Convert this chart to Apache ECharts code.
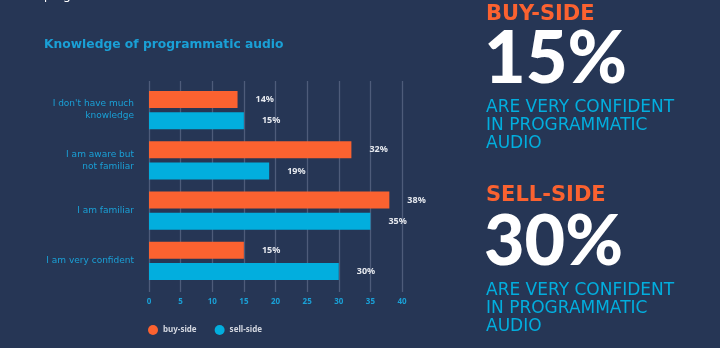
<!DOCTYPE html>
<html>
<head>
<meta charset="utf-8">
<script src="https://cdn.jsdelivr.net/npm/echarts@6/dist/echarts.min.js"></script>
<style>
html,body{margin:0;padding:0;background:#263655;}
#c{width:720px;height:348px;}
</style>
</head>
<body>
<div id="c"></div>
<script>
const categories = ["I don't have much\nknowledge", "I am aware but\nnot familiar", "I am familiar", "I am very confident"];
const buySide = [14, 32, 38, 15];
const sellSide = [15, 19, 35, 30];
const seriesNames = ["buy-side", "sell-side"];
const xTicks = [0, 5, 10, 15, 20, 25, 30, 35, 40];

const ORANGE = '#fb6230';
const BLUE = '#02aede';
const LABELBLUE = '#1aa0d6';
const GRID = '#4e5c7a';
const FONT = '"Noto Sans", Lato, sans-serif';
const WIDE = '"DejaVu Sans", "Noto Sans", sans-serif';
const BIG = 'Lato, "Noto Sans", sans-serif';

const chart = echarts.init(document.getElementById('c'));
const valueLabel = {
  show: true, position: 'right', distance: 18,
  formatter: p => p.value + '%',
  color: '#e6e9ef', fontSize: 9, fontWeight: 'bold', fontFamily: FONT
};
chart.setOption({
  backgroundColor: '#263655',
  animation: false,
  grid: {left: 149, width: 253, top: 85, height: 201},
  xAxis: [{
    type: 'value', min: xTicks[0], max: xTicks[xTicks.length - 1], interval: 5,
    position: 'bottom',
    axisLine: {show: false},
    axisTick: {show: true, length: 6, lineStyle: {color: GRID, width: 1.3}},
    splitLine: {show: true, lineStyle: {color: GRID, width: 1.3}},
    axisLabel: {color: LABELBLUE, fontSize: 8, fontWeight: 'bold', fontFamily: FONT, margin: 12}
  }, {
    type: 'value', min: xTicks[0], max: xTicks[xTicks.length - 1], interval: 5,
    position: 'top',
    axisLine: {show: false},
    axisTick: {show: true, length: 4, lineStyle: {color: GRID, width: 1.3}},
    splitLine: {show: false},
    axisLabel: {show: false}
  }],
  yAxis: {
    type: 'category', data: categories, inverse: true,
    axisLine: {show: false}, axisTick: {show: false},
    axisLabel: {color: LABELBLUE, fontSize: 9, fontFamily: WIDE, margin: 15, lineHeight: 12, align: 'right'}
  },
  legend: {
    data: seriesNames, left: 143, top: 320, icon: 'circle',
    itemWidth: 10, itemHeight: 10, itemGap: 18,
    textStyle: {color: '#d3d7e0', fontSize: 8, fontFamily: FONT, fontWeight: 'bold'}
  },
  series: [
    {name: seriesNames[0], type: 'bar', data: buySide, barWidth: 17, barGap: '25%',
     itemStyle: {color: ORANGE}, label: valueLabel},
    {name: seriesNames[1], type: 'bar', data: sellSide, barWidth: 17, barGap: '25%',
     itemStyle: {color: BLUE}, label: valueLabel}
  ],
  graphic: [
    {type: 'text', left: 44, top: -10, style: {text: 'programmatic audio.', fill: '#ffffff', font: '12px ' + FONT}},
    {type: 'text', x: 44, y: 45, style: {text: 'Knowledge of programmatic audio', fill: LABELBLUE, font: 'bold 12.3px ' + WIDE, verticalAlign: 'middle'}},
    {type: 'text', x: 486, y: 14.5, style: {text: 'BUY-SIDE', fill: ORANGE, font: 'bold 21px ' + WIDE, verticalAlign: 'middle'}},
    {type: 'text', x: 484, y: 60, style: {text: '15%', fill: '#ffffff', font: '900 72px ' + BIG, verticalAlign: 'middle'}},
    {type: 'text', x: 486, y: 107.5, style: {text: 'ARE VERY CONFIDENT', fill: BLUE, font: '17px ' + WIDE, verticalAlign: 'middle'}},
    {type: 'text', x: 486, y: 125.5, style: {text: 'IN PROGRAMMATIC', fill: BLUE, font: '17px ' + WIDE, verticalAlign: 'middle'}},
    {type: 'text', x: 486, y: 143.5, style: {text: 'AUDIO', fill: BLUE, font: '17px ' + WIDE, verticalAlign: 'middle'}},
    {type: 'text', x: 486, y: 196, style: {text: 'SELL-SIDE', fill: ORANGE, font: 'bold 21px ' + WIDE, verticalAlign: 'middle'}},
    {type: 'text', x: 484, y: 242, style: {text: '30%', fill: '#ffffff', font: '900 70px ' + BIG, verticalAlign: 'middle'}},
    {type: 'text', x: 486, y: 290.5, style: {text: 'ARE VERY CONFIDENT', fill: BLUE, font: '17px ' + WIDE, verticalAlign: 'middle'}},
    {type: 'text', x: 486, y: 308.5, style: {text: 'IN PROGRAMMATIC', fill: BLUE, font: '17px ' + WIDE, verticalAlign: 'middle'}},
    {type: 'text', x: 486, y: 326.5, style: {text: 'AUDIO', fill: BLUE, font: '17px ' + WIDE, verticalAlign: 'middle'}}
  ]
});
</script>
</body>
</html>
